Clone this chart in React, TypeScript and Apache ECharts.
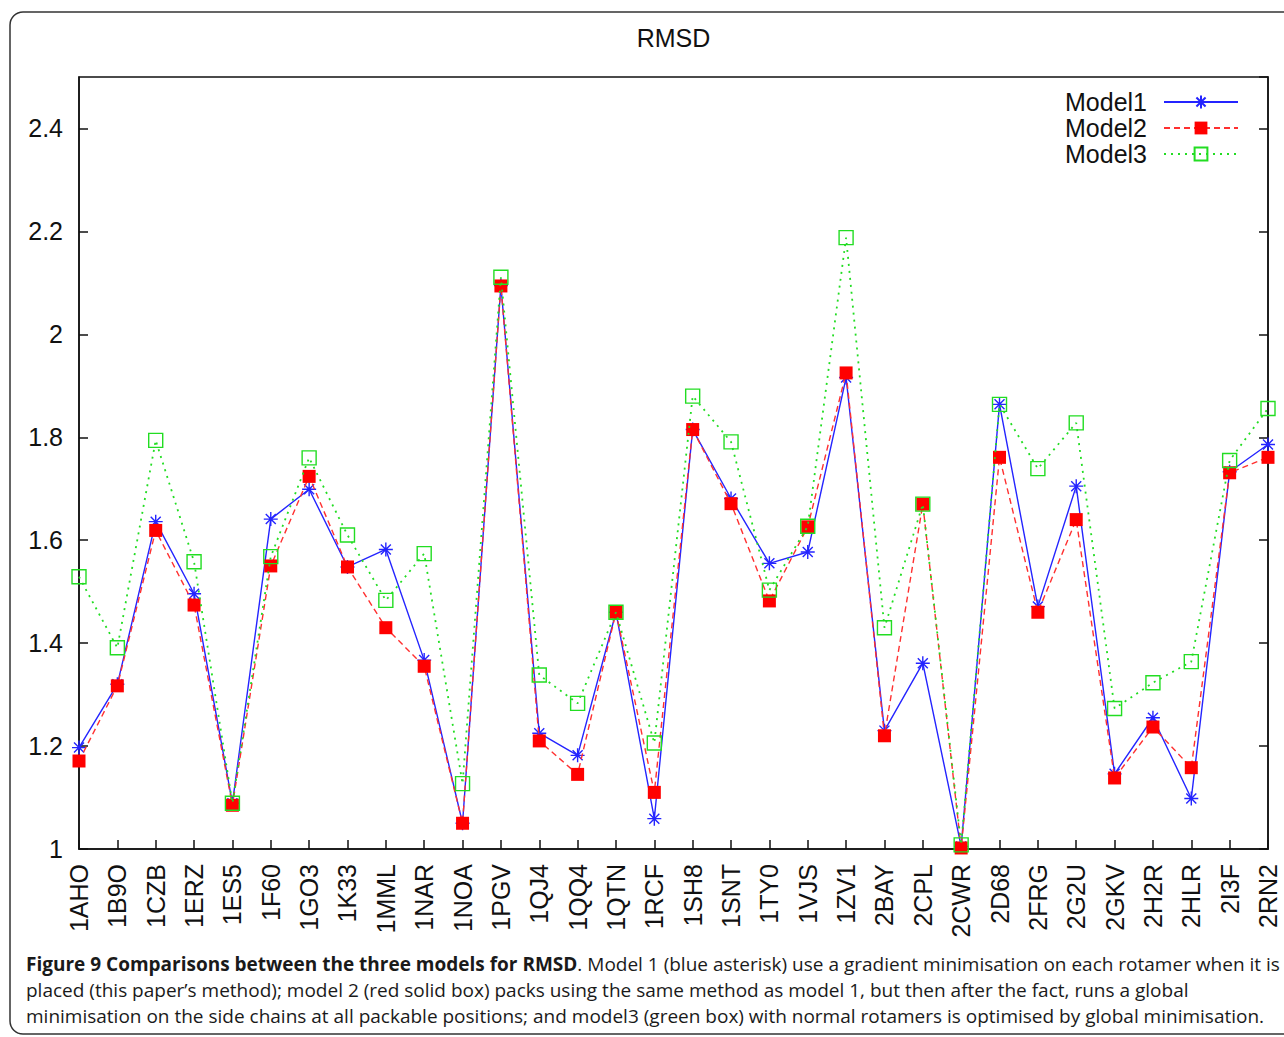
import React, { useEffect, useRef } from "react";
import * as echarts from "echarts";

const categories = [
  "1AHO", "1B9O", "1CZB", "1ERZ", "1ES5", "1F60", "1GO3", "1K33", "1MML", "1NAR",
  "1NOA", "1PGV", "1QJ4", "1QQ4", "1QTN", "1RCF", "1SH8", "1SNT", "1TY0", "1VJS",
  "1ZV1", "2BAY", "2CPL", "2CWR", "2D68", "2FRG", "2G2U", "2GKV", "2H2R", "2HLR",
  "2I3F", "2RN2",
];

const model1 = [
  1.197, 1.32, 1.636, 1.496, 1.089, 1.641, 1.699, 1.548, 1.582, 1.367,
  1.05, 2.095, 1.225, 1.182, 1.46, 1.059, 1.815, 1.681, 1.555, 1.577,
  1.916, 1.23, 1.361, 1.005, 1.864, 1.471, 1.705, 1.146, 1.255, 1.098,
  1.733, 1.786,
];

const model2 = [
  1.171, 1.317, 1.619, 1.474, 1.085, 1.55, 1.724, 1.548, 1.43, 1.355,
  1.05, 2.094, 1.21, 1.145, 1.46, 1.11, 1.815, 1.671, 1.482, 1.626,
  1.925, 1.22, 1.67, 1.002, 1.761, 1.46, 1.64, 1.138, 1.237, 1.158,
  1.731, 1.761,
];

const model3 = [
  1.529, 1.391, 1.794, 1.558, 1.089, 1.568, 1.76, 1.61, 1.483, 1.574,
  1.127, 2.111, 1.338, 1.283, 1.46, 1.206, 1.88, 1.791, 1.503, 1.627,
  2.188, 1.43, 1.67, 1.008, 1.864, 1.739, 1.828, 1.273, 1.323, 1.364,
  1.755, 1.856,
];

const seriesNames = ["Model1", "Model2", "Model3"];
const titleText = "RMSD";
const captionBold = "Figure 9 Comparisons between the three models for RMSD";
const captionLine1 =
  ". Model 1 (blue asterisk) use a gradient minimisation on each rotamer when it is";
const captionLine2 =
  "placed (this paper\u2019s method); model 2 (red solid box) packs using the same method as model 1, but then after the fact, runs a global";
const captionLine3 =
  "minimisation on the side chains at all packable positions; and model3 (green box) with normal rotamers is optimised by global minimisation.";

const yMin = 1;
const yMax = 2.5;
const yInterval = 0.2;

const PLOT_FONT = "'Liberation Sans', Arial, sans-serif";
const CAPTION_FONT = "'Open Sans', 'Noto Sans', sans-serif";
const CAPTION_SIZE = 19;

const asterisk = "path://M7,0L7,14M0,7L14,7M2,2L12,12M12,2L2,12";

export default function App() {
  const ref = useRef<HTMLDivElement>(null);

  useEffect(() => {
    if (!ref.current) return;
    const chart = echarts.init(ref.current, undefined, { renderer: "svg" });

    const tickStyle = { show: true, inside: true, length: 9, lineStyle: { color: "#111", width: 1.5 } };

    const option: any = {
      animation: false,
      backgroundColor: "#fff",
      grid: {
        left: 79,
        right: 16,
        top: 77,
        bottom: 188,
        show: true,
        borderColor: "#111",
        borderWidth: 1.5,
        containLabel: false,
      },
      legend: {
        data: seriesNames,
        orient: "vertical",
        align: "right",
        right: 40,
        top: 84,
        itemWidth: 74,
        itemHeight: 16,
        itemGap: 0,
        textStyle: {
          fontFamily: PLOT_FONT,
          fontSize: 25,
          color: "#111",
          lineHeight: 26,
          padding: [0, 12, 0, 0],
        },
      },
      xAxis: {
        type: "category",
        data: categories,
        boundaryGap: false,
        axisLine: { show: true, lineStyle: { color: "#111", width: 1.5 } },
        axisTick: { ...tickStyle, interval: 0 },
        axisLabel: {
          interval: 0,
          rotate: 90,
          margin: 15,
          fontFamily: PLOT_FONT,
          fontSize: 25,
          color: "#111",
        },
        splitLine: { show: false },
      },
      yAxis: [
        {
          type: "value",
          min: yMin,
          max: yMax,
          interval: yInterval,
          axisLine: { show: true, lineStyle: { color: "#111", width: 1.5 } },
          axisTick: tickStyle,
          axisLabel: {
            showMaxLabel: false,
            margin: 16,
            fontFamily: PLOT_FONT,
            fontSize: 25,
            color: "#111",
          },
          splitLine: { show: false },
        },
        {
          type: "value",
          position: "right",
          min: yMin,
          max: yMax,
          interval: yInterval,
          axisLine: { show: true, lineStyle: { color: "#111", width: 1.5 } },
          axisTick: tickStyle,
          axisLabel: { show: false },
          splitLine: { show: false },
        },
      ],
      series: [
        {
          name: seriesNames[0],
          type: "line",
          data: model1,
          symbol: asterisk,
          symbolSize: 14,
          lineStyle: { color: "#2424ff", width: 1.4, type: "solid" },
          itemStyle: { color: "#2424ff", borderColor: "#2424ff", borderWidth: 1.4 },
          z: 2,
        },
        {
          name: seriesNames[1],
          type: "line",
          data: model2,
          symbol: "rect",
          symbolSize: 13,
          lineStyle: { color: "#ff3030", width: 1.4, type: [6, 4] },
          itemStyle: { color: "#ff0000" },
          z: 3,
        },
        {
          name: seriesNames[2],
          type: "line",
          data: model3,
          symbol: "rect",
          symbolSize: 14,
          lineStyle: { color: "#22dd22", width: 1.8, type: [2, 5] },
          itemStyle: { color: "transparent", borderColor: "#22dd22", borderWidth: 1.4 },
          z: 4,
        },
      ],
      graphic: [
        {
          type: "rect",
          shape: { x: 10, y: 12, width: 1300, height: 1022, r: 13 },
          style: { fill: "none", stroke: "#333", lineWidth: 1.5 },
          silent: true,
        },
        {
          type: "text",
          x: 673.5,
          y: 38,
          style: {
            text: titleText,
            fontFamily: PLOT_FONT,
            fontSize: 25,
            fill: "#111",
            textAlign: "center",
            textVerticalAlign: "middle",
          },
        },
        {
          type: "text",
          x: 26,
          y: 964,
          style: {
            text: "{b|" + captionBold + "}{n|" + captionLine1 + "}",
            textVerticalAlign: "middle",
            rich: {
              b: { fontFamily: CAPTION_FONT, fontSize: CAPTION_SIZE, fontWeight: "bold", fill: "#1a1a1a" },
              n: { fontFamily: CAPTION_FONT, fontSize: CAPTION_SIZE, fill: "#1a1a1a" },
            },
          },
        },
        {
          type: "text",
          x: 26,
          y: 990,
          style: {
            text: captionLine2,
            fontFamily: CAPTION_FONT,
            fontSize: CAPTION_SIZE,
            fill: "#1a1a1a",
            textVerticalAlign: "middle",
          },
        },
        {
          type: "text",
          x: 26,
          y: 1016,
          style: {
            text: captionLine3,
            fontFamily: CAPTION_FONT,
            fontSize: CAPTION_SIZE,
            fill: "#1a1a1a",
            textVerticalAlign: "middle",
          },
        },
      ],
    };

    chart.setOption(option);
    return () => chart.dispose();
  }, []);

  return (
    <div
      ref={ref}
      style={{ position: "absolute", left: 0, top: 0, width: 1284, height: 1037, background: "#fff" }}
    />
  );
}
